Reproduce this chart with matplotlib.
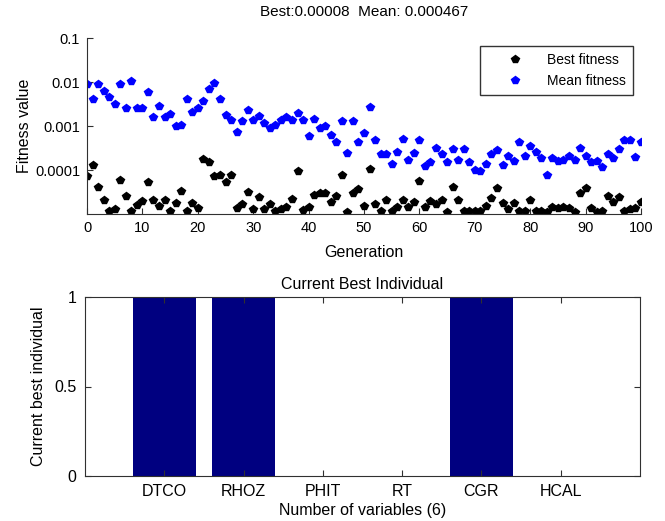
import matplotlib
matplotlib.use("Agg")
import matplotlib.pyplot as plt
import numpy as np

plt.rcParams['font.family'] = ['Liberation Sans', 'DejaVu Sans']

generations = list(range(0, 101))

mean_fitness = [
    0.0089, 0.0042, 0.0089, 0.0063, 0.0045, 0.0032, 0.0089, 0.0026, 0.0107, 0.0025,
    0.0026, 0.0059, 0.0016, 0.0029, 0.0016, 0.0019, 0.00098, 0.00105, 0.0042, 0.0021,
    0.0026, 0.0037, 0.0068, 0.0095, 0.0042, 0.0018, 0.00138, 0.00074, 0.00129, 0.0023,
    0.00138, 0.0017, 0.0012, 0.00091, 0.00105, 0.00138, 0.0016, 0.00138, 0.0020, 0.00138,
    0.00058, 0.00148, 0.00091, 0.00098, 0.00062, 0.00044, 0.00129, 0.000245, 0.00129, 0.00044,
    0.00068, 0.00275, 0.00047, 0.00023, 0.00023, 0.00014, 0.00026, 0.0005, 0.00017, 0.00024,
    0.00047, 0.000123, 0.000151, 0.00032, 0.00023, 0.000151, 0.0003, 0.00017, 0.0003, 0.000151,
    0.000102, 0.000095, 0.00014, 0.00023, 0.00028, 0.000132, 0.00021, 0.000158, 0.00044, 0.00021,
    0.00036, 0.00026, 0.000186, 0.000078, 0.000186, 0.000162, 0.00017, 0.00021, 0.00017, 0.00032,
    0.00021, 0.000151, 0.000162, 0.000115, 0.00023, 0.000186, 0.0003, 0.00047, 0.00047, 0.0002,
    0.00044,
]

best_fitness = [
    7.4e-5, 1.32e-4, 4.1e-5, 2.1e-5, 1.17e-5, 1.29e-5, 5.9e-5, 2.6e-5, 1.15e-5, 1.58e-5,
    1.95e-5, 5.2e-5, 2.1e-5, 1.51e-5, 2.1e-5, 1.2e-5, 1.74e-5, 3.3e-5, 1.2e-5, 1.82e-5,
    1.38e-5, 1.74e-4, 1.51e-4, 7.2e-5, 7.8e-5, 5.2e-5, 7.8e-5, 1.38e-5, 1.7e-5, 3.1e-5,
    1.29e-5, 2.4e-5, 1.29e-5, 1.7e-5, 1.15e-5, 1.29e-5, 1.48e-5, 2.2e-5, 9.5e-5, 1.23e-5,
    1.48e-5, 2.75e-5, 2.95e-5, 3.0e-5, 1.86e-5, 2.6e-5, 7.8e-5, 1.12e-5, 3.0e-5, 3.7e-5,
    1.55e-5, 1.07e-4, 1.66e-5, 1.2e-5, 2.1e-5, 1.2e-5, 1.45e-5, 2.1e-5, 1.45e-5, 1.86e-5,
    5.5e-5, 1.45e-5, 2.0e-5, 1.66e-5, 2.1e-5, 1.12e-5, 4.2e-5, 2.1e-5, 1.2e-5, 1.2e-5,
    1.2e-5, 1.2e-5, 1.55e-5, 2.3e-5, 4.0e-5, 1.78e-5, 1.29e-5, 1.78e-5, 1.2e-5, 1.2e-5,
    2.1e-5, 1.2e-5, 1.2e-5, 1.12e-5, 1.45e-5, 1.38e-5, 1.45e-5, 1.38e-5, 1.12e-5, 3.0e-5,
    4.0e-5, 1.38e-5, 1.12e-5, 1.2e-5, 2.6e-5, 1.86e-5, 2.45e-5, 1.2e-5, 1.29e-5, 1.38e-5,
    1.86e-5,
]

yticks_top = [1e-4, 1e-3, 1e-2, 1e-1]
ytick_labels_top = ['0.0001', '0.001', '0.01', '0.1']
xticks_top = list(range(0, 101, 10))

variables = ['DTCO', 'RHOZ', 'PHIT', 'RT', 'CGR', 'HCAL']
selected = [1, 1, 0, 0, 1, 0]

title_top = 'Best:0.00008  Mean: 0.000467'

fig = plt.figure(figsize=(6.65, 5.21), dpi=100)
axis_col = '#303030'

# ---- top plot ----
ax1 = fig.add_axes([87/665, 1-214/521, 554/665, 176/521])
ax1.set_yscale('log')
ax1.plot(generations, best_fitness, linestyle='none', marker='p', markersize=5.5,
         color='black', label='Best fitness')
ax1.plot(generations, mean_fitness, linestyle='none', marker='p', markersize=5.5,
         color='#0000ff', label='Mean fitness')
ax1.set_xlim(0, 100)
ax1.set_ylim(1e-5, 1e-1)
ax1.set_xticks(xticks_top)
ax1.set_yticks(yticks_top)
ax1.set_yticklabels(ytick_labels_top)
ax1.yaxis.set_minor_locator(matplotlib.ticker.NullLocator())
ax1.tick_params(direction='in', length=4, labelsize=10.5, color=axis_col, pad=5)
for s in ['top', 'right']:
    ax1.spines[s].set_visible(False)
for s in ['left', 'bottom']:
    ax1.spines[s].set_color(axis_col)
ax1.set_xlabel('Generation', fontsize=11.5, labelpad=7)
ax1.set_ylabel('Fitness value', fontsize=11.5, labelpad=2)
ax1.set_title(title_top, fontsize=11, pad=16)
leg = ax1.legend(loc='upper right', bbox_to_anchor=(0.985, 0.955), fontsize=10,
                 frameon=True, fancybox=False, edgecolor='black',
                 handletextpad=0.3, borderpad=0.5, labelspacing=0.5,
                 handlelength=4.0, borderaxespad=0.0)
leg.get_frame().set_linewidth(1.0)

# ---- bottom plot ----
ax2 = fig.add_axes([85/665, 1-476/521, 555/665, 179/521])
xpos = np.arange(1, len(variables) + 1)
ax2.bar(xpos, selected, width=0.8, color='#000080', edgecolor='none')
ax2.set_xlim(0, 7)
ax2.set_ylim(0, 1)
ax2.set_xticks(xpos)
ax2.set_xticklabels(variables)
ax2.set_yticks([0, 0.5, 1])
ax2.set_yticklabels(['0', '0.5', '1'])
ax2.tick_params(direction='in', length=4, labelsize=11.5, color=axis_col,
                top=True, right=True, pad=6)
for s in ax2.spines.values():
    s.set_color(axis_col)
ax2.set_xlabel('Number of variables (6)', fontsize=11.5, labelpad=3)
ax2.set_ylabel('Current best individual', fontsize=11.5, labelpad=6)
ax2.set_title('Current Best Individual', fontsize=11.5, pad=6)

fig.savefig('out.png', dpi=100)
